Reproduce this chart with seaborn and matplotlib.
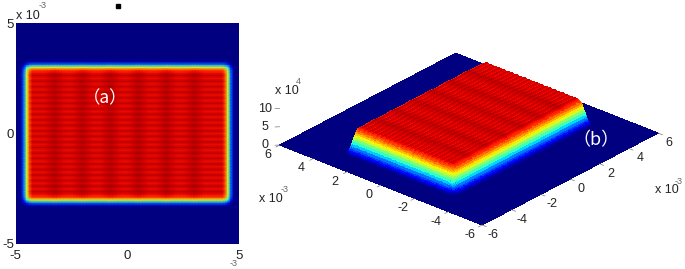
import numpy as np
import matplotlib
matplotlib.use("Agg")
import matplotlib.pyplot as plt
from matplotlib.patches import Rectangle
from mpl_toolkits.mplot3d import proj3d
import seaborn as sns

sns.set_theme(style="white")
plt.rcParams['font.family'] = ['Liberation Sans', 'DejaVu Sans']

# profiles, relative height, one value per 0.125e-3 m
x_edge = [0, 0, .04, .25, .62, .88]
x_body = [.97, .97, .97, .97, .97, .975, .98, .99, 1.0, .99, .98, .975,
          .97, .97, .97, .975, .98, .99, 1.0, .99, .98, .975, .97, .97,
          .97, .975, .98, .99, 1.0, .99, .98, .975, .97, .97, .97, .975,
          .98, .99, 1.0, .99, .98, .975, .97, .97, .97, .975, .98, .99,
          1.0, .99, .98, .975, .97, .97, .97, .975, .98, .99, 1.0, .99,
          .98, .975, .97, .97, .97, .97, .97, .97, .97]
y_edge = [0, 0, 0, 0, 0, 0, 0, 0, 0, 0, 0, 0, 0, 0, .04, .25, .62, .88]
y_body = [.925, .975, .925, .975, .925, .975, .925, .975, .925, .975, .925,
          .975, .925, .975, .925, .975, .925, .975, .925, .975, .925, .975,
          .925, .975, .925, .975, .925, .975, .925, .975, .925, .975, .925,
          .975, .925, .975, .925, .975, .925, .975, .925, .975, .925, .975,
          .925]
x_profile = np.array(x_edge + x_body + x_edge[::-1])
y_profile = np.array(y_edge + y_body + y_edge[::-1])
ab_labels = ['-5', '0', '5']
tick_3d = [-6, -4, -2, 0, 2, 4, 6]
z_ticks = [0, 5, 10]
z_peak = 7.6
INK = '#222222'
GREY = '#666666'
CJK = ['Noto Sans CJK SC', 'DejaVu Sans']


def px(x, y):
    return x / 685, 1 - y / 269


def refine(a, n=4):
    # only thins the mesh for smooth shading, like matlab's interp
    idx = np.arange(a.shape[0])
    fine = np.linspace(0, a.shape[0] - 1, (a.shape[0] - 1) * n + 1)
    a = np.array([np.interp(fine, idx, col) for col in a.T]).T
    idx = np.arange(a.shape[1])
    fine = np.linspace(0, a.shape[1] - 1, (a.shape[1] - 1) * n + 1)
    return np.array([np.interp(fine, idx, row) for row in a])


Z = np.outer(y_profile, x_profile)
nr, nc = Z.shape

fig = plt.figure(figsize=(6.85, 2.69), dpi=100)

# panel a
l, b = px(15.5, 244)
ax = fig.add_axes([l, b, 223.5 / 685, 221 / 269])
sns.heatmap(Z, cmap='jet', vmin=0, vmax=1, cbar=False, shading='gouraud',
            xticklabels=False, yticklabels=False, ax=ax)
ax.set_xlim(0, nc - 1)
ax.set_ylim(0, nr - 1)
ax.set_xticks([0, (nc - 1) / 2, nc - 1], ab_labels, fontsize=9.5, color=INK)
ax.set_yticks([0, (nr - 1) / 2, nr - 1], ab_labels, fontsize=9.5, color=INK)
ax.tick_params(axis='x', length=0, pad=4)
ax.tick_params(axis='y', length=0, pad=1)
ax.text((nc - 1) * .40, (nr - 1) * .66, '（a）', color='white', fontsize=12.5,
        ha='center', va='center', family=CJK)
fig.text(*px(16, 16), 'x 10', fontsize=9, color=INK, va='center')
fig.text(*px(39, 6), '-3', fontsize=6.5, color=GREY, va='center')
fig.text(*px(230, 264), '-3', fontsize=6.5, color=GREY, va='center')
fig.add_artist(Rectangle(px(116, 8), 4 / 685, 4 / 269, color='black',
                         transform=fig.transFigure))

# panel b
ax3 = fig.add_axes([0.3405, -0.322, 0.67, 1.7], projection='3d', proj_type='ortho')
ax3.patch.set_alpha(0)
xs = np.linspace(-5, 5, nc)
ys = np.linspace(-5, 5, nr)
pad_x = np.r_[-6, refine(xs[None, :])[0], 6]
pad_y = np.r_[-6, refine(ys[None, :])[0], 6]
ZP = np.pad(refine(Z), 1)
XX, YY = np.meshgrid(pad_x, pad_y)
ax3.plot_surface(XX, YY, ZP * z_peak, facecolors=plt.get_cmap('jet')(ZP),
                 rstride=1, cstride=1, shade=False, antialiased=False, linewidth=0)
ax3.set_xlim(-6, 6)
ax3.set_ylim(-6, 6)
ax3.set_zlim(0, 10)
ax3.set_box_aspect((1, 1, 0.153), zoom=0.81)
ax3.view_init(elev=27, azim=221)
ax3.set_axis_off()


def label3d(x, y, z, s, dx, dy):
    u, v, _ = proj3d.proj_transform(x, y, z, ax3.get_proj())
    ax3.annotate(s, (u, v), xytext=(dx, dy), textcoords='offset pixels', fontsize=9,
                 color=INK, ha='center', va='center')


for t in tick_3d:
    ax3.plot([t, t], [-6, -6.25], [0, 0], color='#777777', lw=.5)
    ax3.plot([-6, -6.25], [t, t], [0, 0], color='#777777', lw=.5)
    label3d(t, -6, 0, str(t), 11, -10)
    label3d(-6, t, 0, str(t), -12, -10)
for t in z_ticks:
    ax3.plot([-6, -6.15], [6, 6.15], [t, t], color='#777777', lw=.5)
    label3d(-6, 6, t, str(t), -15, 0)

fig.text(*px(259, 199), 'x 10', fontsize=9, color=INK, va='center')
fig.text(*px(281, 190), '-3', fontsize=6.5, color=GREY, va='center')
fig.text(*px(275, 91), 'x 10', fontsize=9, color=INK, va='center')
fig.text(*px(296, 82), '4', fontsize=6.5, color=GREY, va='center')
fig.text(*px(655, 190), 'x 10', fontsize=9, color=INK, va='center')
fig.text(*px(675, 181), '-3', fontsize=6.5, color=GREY, va='center')
fig.text(*px(596, 140), '（b）', color='white', fontsize=13, ha='center',
         va='center', family=CJK)

fig.savefig('out.png', dpi=100)
